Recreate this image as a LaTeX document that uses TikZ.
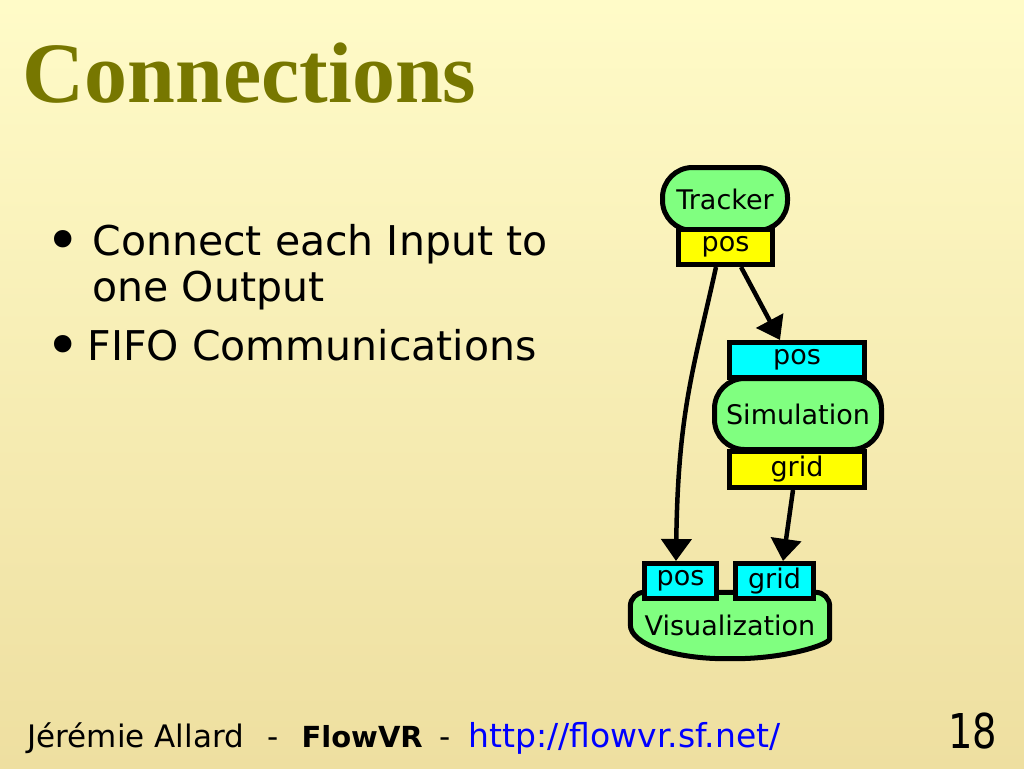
\documentclass[tikz,border=0pt]{standalone}
\usepackage{fontspec}
\setmainfont{DejaVu Sans}
\newfontfamily\titlefont{Liberation Serif}
\newfontfamily\narrowfont[FakeStretch=0.8]{DejaVu Sans}
\usetikzlibrary{arrows.meta, calc, backgrounds}

\definecolor{slidetop}{RGB}{255,251,200}
\definecolor{slidebottom}{RGB}{238,223,160}
\definecolor{titleolive}{RGB}{119,119,0}
\definecolor{modgreen}{RGB}{128,255,128}
\definecolor{outyellow}{RGB}{255,255,0}
\definecolor{incyan}{RGB}{0,255,255}
\definecolor{urlblue}{RGB}{0,0,255}

\begin{document}
\begin{tikzpicture}[
    x=1pt, y=-1pt,
    module/.style={draw, line width=5pt, fill=modgreen, inner sep=0pt, rounded corners=30pt, font=\fontsize{27}{30}\selectfont},
    port/.style={draw, line width=5pt, inner sep=0pt, font=\fontsize{27}{30}\selectfont},
    inport/.style={port, fill=incyan},
    outport/.style={port, fill=outyellow},
    link/.style={line width=4.5pt, -{Triangle[length=22pt, width=30pt]}},
    bulletmark/.style={anchor=base west, font=\fontsize{60}{60}\selectfont},
    itemtext/.style={anchor=base west, font=\fontsize{41}{48}\selectfont},
    foot/.style={anchor=base west, font=\fontsize{31}{36}\selectfont}
]
\useasboundingbox (0,0) rectangle (1024,768);

\node[anchor=base west, text=titleolive, font=\titlefont\bfseries\fontsize{86}{90}\selectfont] (title) at (19,102) {Connections};

\node[bulletmark] (b1) at (42,261) {•};
\node[itemtext] (i1) at (89,255) {Connect each Input to};
\node[itemtext] (i1b) at (89,301) {one Output};
\node[bulletmark] (b2) at (42,366) {•};
\node[itemtext] (i2) at (84,360) {FIFO Communications};

\node[module, minimum width=125pt, minimum height=63pt] (tracker) at (725,199) {Tracker};
\node[outport, minimum width=94pt, minimum height=35pt] (tpos) at (725.5,247) {pos};

\node[module, minimum width=167pt, minimum height=71pt] (sim) at (798,414) {Simulation};
\node[inport, minimum width=135pt, minimum height=35pt] (spos) at (797,360) {pos};
\node[outport, minimum width=135pt, minimum height=36pt] (sgrid) at (797,469.5) {grid};

\node[inner sep=0pt, minimum width=199pt, minimum height=66pt, font=\fontsize{27}{30}\selectfont] (viz) at (730,625.5) {Visualization};
\node[inport, minimum width=72pt, minimum height=35pt] (vpos) at (680.5,581) {pos};
\node[inport, minimum width=78pt, minimum height=35pt] (vgrid) at (774.5,581) {grid};

\draw[link] ([xshift=-9.5pt]tpos.south) .. controls ($(tpos.south)+(-31.5,100)$) and ($(vpos.north)+(-2.5,-150)$) .. ([xshift=-4.5pt]vpos.north);
\draw[link] ([xshift=15.5pt]tpos.south) -- ([xshift=-17pt]spos.north);
\draw[link] ([xshift=-4pt]sgrid.south) -- ([xshift=8.5pt]vgrid.north);

\node[foot] (author) at (24,747) {Jérémie Allard};
\node[foot] (sep1) at (264,747) {-};
\node[foot, font=\bfseries\fontsize{29}{36}\selectfont] (project) at (298,747) {FlowVR};
\node[foot] (sep2) at (436,747) {-};
\node[foot, text=urlblue, font=\fontsize{33}{36}\selectfont] (url) at (465,747) {http://flowvr.sf.net/};
\node[anchor=base west, font=\narrowfont\fontsize{48}{56}\selectfont] (page) at (945,748) {18};

\begin{scope}[on background layer]
\shade[top color=slidetop, bottom color=slidebottom] (0,0) rectangle (1024,768);
\draw[line width=5pt, fill=modgreen, rounded corners=14pt] ($(viz.south west)+(0,-34)$) |- (viz.north) -| ($(viz.south east)+(0,-34)$) [sharp corners] .. controls ($(viz.south east)+(0,-14)$) and ($(viz.south east)+(-45,0)$) .. ($(viz.south east)+(-95,0)$) -- ($(viz.south west)+(95,0)$) .. controls ($(viz.south west)+(45,0)$) and ($(viz.south west)+(0,-14)$) .. cycle;
\end{scope}

\end{tikzpicture}
\end{document}
